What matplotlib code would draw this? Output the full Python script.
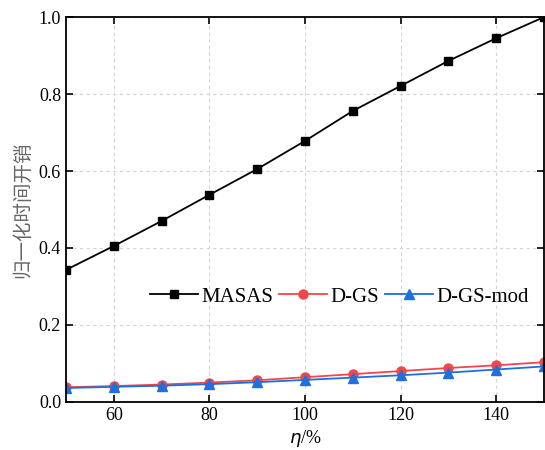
import matplotlib
matplotlib.use('Agg')
import matplotlib.pyplot as plt

# eta (%) values and normalised time cost for each method
eta = [50, 60, 70, 80, 90, 100, 110, 120, 130, 140, 150]
masas = [0.343, 0.405, 0.470, 0.538, 0.605, 0.678, 0.756, 0.821, 0.886, 0.945, 1.0]
d_gs = [0.038, 0.041, 0.045, 0.050, 0.056, 0.064, 0.072, 0.080, 0.088, 0.095, 0.103]
d_gs_mod = [0.036, 0.039, 0.042, 0.046, 0.051, 0.057, 0.063, 0.069, 0.076, 0.084, 0.092]

x_ticks = [60, 80, 100, 120, 140]
y_ticks = [0.0, 0.2, 0.4, 0.6, 0.8, 1.0]

plt.rcParams['font.family'] = ['Liberation Serif', 'Noto Sans CJK SC']

fig = plt.figure(figsize=(5.45, 4.5), dpi=100)
ax = fig.add_axes([0.121, 0.107, 0.877, 0.855])

ax.plot(eta, masas, color='black', marker='s', markersize=6, linewidth=1.3, label='MASAS')
ax.plot(eta, d_gs, color='#f0484a', marker='o', markersize=6.5, linewidth=1.3, label='D-GS')
ax.plot(eta, d_gs_mod, color='#1f6fdc', marker='^', markersize=7, linewidth=1.3, label='D-GS-mod')

ax.set_xlim(50, 150)
ax.set_ylim(0, 1.0)
ax.set_xticks(x_ticks)
ax.set_yticks(y_ticks)
ax.set_yticklabels(['%.1f' % v for v in y_ticks])
ax.tick_params(direction='in', top=True, right=True, labelsize=13, length=5, width=1.2)
for s in ax.spines.values():
    s.set_linewidth(1.3)
ax.grid(True, color='#d4d4d4', linestyle=(0, (3, 3)), linewidth=0.8)

ax.set_xlabel(r'$\eta$/%', fontsize=13, labelpad=3)
ax.set_ylabel('归一化时间开销', fontsize=14, color='#666666', family='Noto Sans CJK SC')

ax.legend(loc='center left', bbox_to_anchor=(0.176, 0.273), ncol=3, frameon=False,
          fontsize=15, handlelength=2.3, handletextpad=0.15, columnspacing=0.3,
          borderpad=0, borderaxespad=0)

plt.savefig('out.png', dpi=100)
plt.close(fig)
